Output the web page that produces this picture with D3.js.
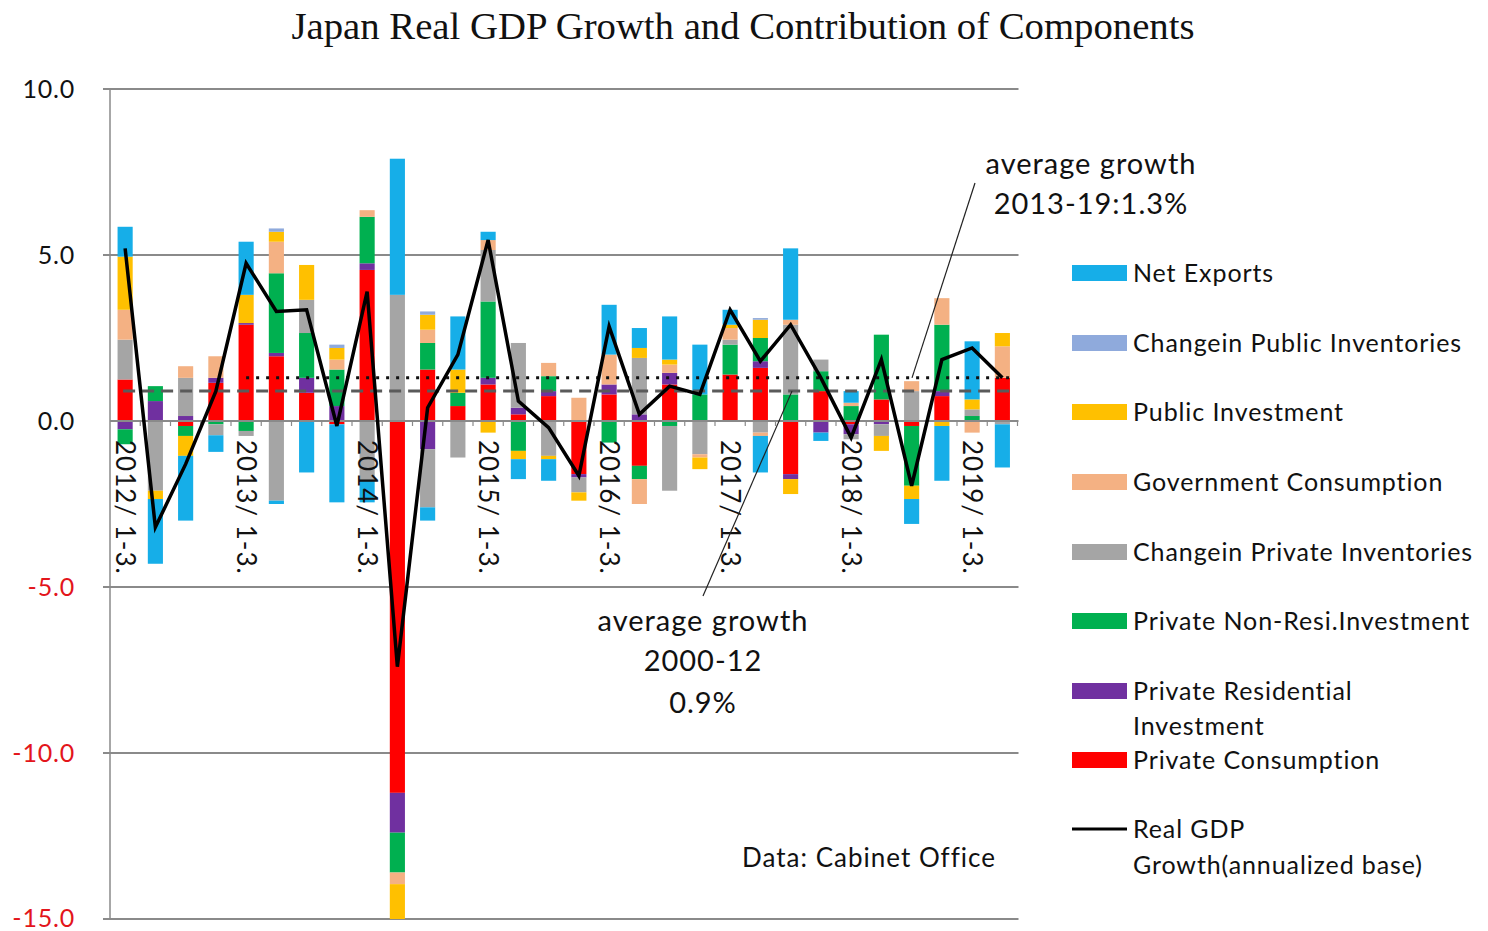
<!DOCTYPE html>
<html>
<head>
<meta charset="utf-8">
<script src="https://cdn.jsdelivr.net/npm/d3@7"></script>
<style>
  html, body { margin: 0; padding: 0; background: #ffffff; }
  svg { display: block; }
</style>
</head>
<body>
<script>
// Quarterly categories, 2012 Jan-Mar through 2019 Apr-Jun
const quarters = [
  "2012/ 1-3.", "2012/ 4-6.", "2012/ 7-9.", "2012/ 10-12.",
  "2013/ 1-3.", "2013/ 4-6.", "2013/ 7-9.", "2013/ 10-12.",
  "2014/ 1-3.", "2014/ 4-6.", "2014/ 7-9.", "2014/ 10-12.",
  "2015/ 1-3.", "2015/ 4-6.", "2015/ 7-9.", "2015/ 10-12.",
  "2016/ 1-3.", "2016/ 4-6.", "2016/ 7-9.", "2016/ 10-12.",
  "2017/ 1-3.", "2017/ 4-6.", "2017/ 7-9.", "2017/ 10-12.",
  "2018/ 1-3.", "2018/ 4-6.", "2018/ 7-9.", "2018/ 10-12.",
  "2019/ 1-3.", "2019/ 4-6."
];

// Contributions to annualized real GDP growth (percentage points)
const privateConsumption   = [1.25, 0, -0.15, 1.15, 2.9, 1.95, 0.85, -0.1, 4.55, -11.2, 1.55, 0.45, 1.1, 0.2, 0.75, -1.6, 0.8, -1.35, 1.1, 0, 1.4, 1.6, -1.6, 0.9, -0.1, 0.65, -0.15, 0.75, 0, 1.3];
const privateResidential   = [-0.25, 0.6, 0.15, 0.15, 0.05, 0.1, 0.45, 0.45, 0.2, -1.2, -0.85, 0, 0.2, 0.2, 0.15, -0.1, 0.3, 0.2, 0.35, 0, 0, 0.2, -0.15, -0.35, -0.3, -0.1, 0, 0.15, 0, 0];
const privateNonResi       = [-0.45, 0.45, -0.3, -0.1, -0.3, 2.4, 1.35, 1.1, 1.4, -1.2, 0.8, 0.4, 2.3, -0.9, 0.45, 0, -0.65, -0.4, -0.15, 0.8, 0.9, 0.7, 0.8, 0.6, 0.45, 1.95, -1.8, 2.0, 0.15, 0];
const privateInventories   = [1.2, -2.1, 1.15, -0.33, -0.15, -2.4, 1.0, 0, -1.8, 3.8, -1.75, -1.1, 1.55, 1.95, -1.05, -0.45, 0, 1.7, -1.95, -1.0, 0.15, -0.35, 2.1, 0.35, -0.15, -0.35, 0.9, 0, 0.2, -0.1];
const govConsumption       = [0.9, 0, 0.35, 0.65, 0, 0.95, 0, 0.3, 0.2, -0.35, 0.4, 0, 0.3, 0, 0.4, 0.7, 0.9, -0.75, 0.25, -0.1, 0.35, -0.1, 0.15, 0, 0.1, 0, 0.3, 0.8, -0.35, 0.95];
const publicInvestment     = [1.6, -0.25, -0.6, 0, 0.85, 0.3, 1.05, 0.35, 0, -1.05, 0.45, 0.7, -0.35, -0.25, -0.1, -0.25, 0, 0.3, 0.15, -0.35, 0.1, 0.55, -0.45, 0, 0, -0.45, -0.4, -0.15, 0.3, 0.4];
const publicInventories    = [0, 0, 0, 0, 0, 0.1, 0, 0.1, 0, 0, 0.1, 0, 0, 0, 0, 0, 0, 0, 0, 0, 0, 0.05, 0, 0, 0, 0, 0, 0, 0, 0];
const netExports           = [0.9, -1.95, -1.95, -0.5, 1.6, -0.1, -1.55, -2.35, -0.65, 4.1, -0.4, 1.6, 0.25, -0.6, -0.65, 0, 1.5, 0.6, 1.3, 1.5, 0.45, -1.1, 2.15, -0.25, 0.35, 0, -0.75, -1.65, 1.75, -1.3];

// Real GDP growth, annualized
const realGdpGrowth = [5.2, -3.2, -1.3, 0.9, 4.75, 3.3, 3.35, -0.15, 3.9, -7.4, 0.4, 2.0, 5.45, 0.6, -0.2, -1.65, 2.85, 0.2, 1.05, 0.8, 3.35, 1.8, 2.9, 1.3, -0.5, 1.85, -1.95, 1.85, 2.2, 1.3];

// Average growth reference levels
const avgGrowth2000to12 = 0.9;
const avgGrowth2013to19 = 1.3;

const yTicks = [10, 5, 0, -5, -10, -15];

// Series: stacking order from the zero line outward
const series = [
  { key: "pc",   name: "Private Consumption",          color: "#ff0000", values: privateConsumption },
  { key: "pr",   name: "Private Residential\nInvestment", color: "#7030a0", values: privateResidential },
  { key: "pnr",  name: "Private Non-Resi.Investment",  color: "#00b050", values: privateNonResi },
  { key: "cpi",  name: "Changein Private Inventories", color: "#a5a5a5", values: privateInventories },
  { key: "gc",   name: "Government Consumption",       color: "#f4b183", values: govConsumption },
  { key: "pi",   name: "Public Investment",            color: "#ffc000", values: publicInvestment },
  { key: "cpub", name: "Changein Public Inventories",  color: "#8faadc", values: publicInventories },
  { key: "nx",   name: "Net Exports",                  color: "#16aee8", values: netExports }
];

const rows = quarters.map((q, i) => {
  const r = { q };
  series.forEach(s => { r[s.key] = s.values[i]; });
  return r;
});

const W = 1488, H = 931;
const svg = d3.select("body").append("svg").attr("width", W).attr("height", H);

const plot = { left: 110, right: 1017.5, top: 89, bottom: 919 };

const x = d3.scaleBand().domain(quarters).range([plot.left, plot.right]).paddingInner(0.5).paddingOuter(0.25);
const y = d3.scaleLinear().domain([-15, 10]).range([plot.bottom, plot.top]);

const sansFont = "Lato, 'Open Sans', sans-serif";

// Title
svg.append("text")
  .attr("x", 743).attr("y", 39)
  .attr("text-anchor", "middle")
  .attr("font-family", "'Liberation Serif', 'Times New Roman', serif")
  .attr("font-size", 37)
  .attr("textLength", 903).attr("lengthAdjust", "spacingAndGlyphs")
  .attr("fill", "#111")
  .text("Japan Real GDP Growth and Contribution of Components");

// Horizontal gridlines
svg.append("g").selectAll("line")
  .data(yTicks.filter(v => v !== 0))
  .join("line")
  .attr("x1", plot.left - 7).attr("x2", plot.right + 1)
  .attr("y1", d => y(d)).attr("y2", d => y(d))
  .attr("stroke", "#8a8a8a").attr("stroke-width", 1.8);

// Vertical value axis
svg.append("line")
  .attr("x1", plot.left).attr("x2", plot.left)
  .attr("y1", y(10)).attr("y2", y(-15))
  .attr("stroke", "#8a8a8a").attr("stroke-width", 1.5);

// Value labels
svg.append("g").selectAll("text")
  .data(yTicks)
  .join("text")
  .attr("x", 75).attr("y", d => y(d))
  .attr("dy", d => d === -15 ? "0.3em" : "0.35em")
  .attr("text-anchor", "end")
  .attr("font-family", sansFont)
  .attr("font-size", 25)
  .attr("letter-spacing", 0.8)
  .attr("fill", d => d < 0 ? "#e3151b" : "#111")
  .text(d => d.toFixed(1));

// Stacked contribution bars
const stack = d3.stack()
  .keys(series.map(s => s.key))
  .offset(d3.stackOffsetDiverging);
const layers = stack(rows);

svg.append("g").selectAll("g")
  .data(layers)
  .join("g")
  .attr("fill", (d, i) => series[i].color)
  .selectAll("rect")
  .data(d => d)
  .join("rect")
  .attr("x", d => x(d.data.q))
  .attr("width", x.bandwidth())
  .attr("y", d => y(Math.max(d[0], d[1])))
  .attr("height", d => Math.abs(y(d[0]) - y(d[1])));

// Zero line with category tick marks
svg.append("line")
  .attr("x1", plot.left).attr("x2", plot.right + 1)
  .attr("y1", y(0)).attr("y2", y(0))
  .attr("stroke", "#8a8a8a").attr("stroke-width", 1.8);

const step = x.step();
svg.append("g").selectAll("line")
  .data(quarters)
  .join("line")
  .attr("x1", d => x(d) + x.bandwidth() / 2 + step / 2)
  .attr("x2", d => x(d) + x.bandwidth() / 2 + step / 2)
  .attr("y1", y(0)).attr("y2", y(0) + 5)
  .attr("stroke", "#8a8a8a").attr("stroke-width", 1.2);

// Category labels, every fourth quarter, rotated
svg.append("g").selectAll("text")
  .data(quarters.filter((q, i) => i % 4 === 0))
  .join("text")
  .attr("transform", d => `translate(${x(d) + x.bandwidth() / 2},${y(0) + 19}) rotate(90)`)
  .attr("dy", "0.35em")
  .attr("font-family", sansFont)
  .attr("font-size", 26)
  .attr("letter-spacing", 1)
  .attr("fill", "#111")
  .text(d => d);

// Average growth reference lines
const cx = q => x(q) + x.bandwidth() / 2;
svg.append("line")
  .attr("x1", cx(quarters[0]) - 2).attr("x2", cx(quarters[quarters.length - 1]) + 8)
  .attr("y1", y(avgGrowth2000to12)).attr("y2", y(avgGrowth2000to12))
  .attr("stroke", "#5a5a5a").attr("stroke-width", 3)
  .attr("stroke-dasharray", "12,7");

svg.append("line")
  .attr("x1", cx(quarters[4])).attr("x2", cx(quarters[quarters.length - 1]) + 8)
  .attr("y1", y(avgGrowth2013to19)).attr("y2", y(avgGrowth2013to19))
  .attr("stroke", "#111").attr("stroke-width", 3)
  .attr("stroke-dasharray", "3,7");

// Real GDP growth line
const line = d3.line()
  .x((d, i) => cx(quarters[i]))
  .y(d => y(d));
svg.append("path")
  .datum(realGdpGrowth)
  .attr("d", line)
  .attr("fill", "none")
  .attr("stroke", "#000")
  .attr("stroke-width", 3.5)
  .attr("stroke-linejoin", "miter");

// Annotations with leader lines
svg.append("line")
  .attr("x1", 975).attr("y1", 183)
  .attr("x2", 912).attr("y2", y(avgGrowth2013to19))
  .attr("stroke", "#222").attr("stroke-width", 1.2);
svg.append("line")
  .attr("x1", 703).attr("y1", 596)
  .attr("x2", 792).attr("y2", y(avgGrowth2000to12))
  .attr("stroke", "#222").attr("stroke-width", 1.2);

const annoText = (cxPos, lines) => {
  const t = svg.append("text")
    .attr("text-anchor", "middle")
    .attr("font-family", sansFont)
    .attr("font-size", 29)
    .attr("letter-spacing", 1)
    .attr("fill", "#111");
  lines.forEach(l => t.append("tspan").attr("x", cxPos).attr("y", l.y).text(l.text));
};
annoText(1091, [{ y: 174, text: "average growth" }, { y: 214, text: "2013-19:1.3%" }]);
annoText(703, [{ y: 631, text: "average growth" }, { y: 671, text: "2000-12" }, { y: 713, text: "0.9%" }]);

// Source note
svg.append("text")
  .attr("x", 996).attr("y", 867)
  .attr("text-anchor", "end")
  .attr("font-family", sansFont)
  .attr("font-size", 26)
  .attr("letter-spacing", 1)
  .attr("fill", "#111")
  .text("Data: Cabinet Office");

// Legend
const legendRows = [
  { s: series[7], y: 273 },
  { s: series[6], y: 343 },
  { s: series[5], y: 412 },
  { s: series[4], y: 482 },
  { s: series[3], y: 552 },
  { s: series[2], y: 621 },
  { s: series[1], y: 691 },
  { s: series[0], y: 760 }
];
const legend = svg.append("g")
  .attr("font-family", sansFont)
  .attr("font-size", 25)
  .attr("letter-spacing", 0.9)
  .attr("fill", "#111");
legendRows.forEach(r => {
  legend.append("rect")
    .attr("x", 1072).attr("y", r.y - 8)
    .attr("width", 55).attr("height", 16)
    .attr("fill", r.s.color);
  const t = legend.append("text").attr("x", 1133).attr("y", r.y);
  r.s.name.split("\n").forEach((part, k) => {
    t.append("tspan").attr("x", 1133).attr("dy", k === 0 ? "0.35em" : 35).text(part);
  });
});
legend.append("line")
  .attr("x1", 1072).attr("x2", 1127)
  .attr("y1", 829).attr("y2", 829)
  .attr("stroke", "#000").attr("stroke-width", 3);
const gdpLabel = legend.append("text").attr("x", 1133).attr("y", 829);
gdpLabel.append("tspan").attr("x", 1133).attr("dy", "0.35em").text("Real GDP");
gdpLabel.append("tspan").attr("x", 1133).attr("dy", 36).text("Growth(annualized base)");
</script>
</body>
</html>
